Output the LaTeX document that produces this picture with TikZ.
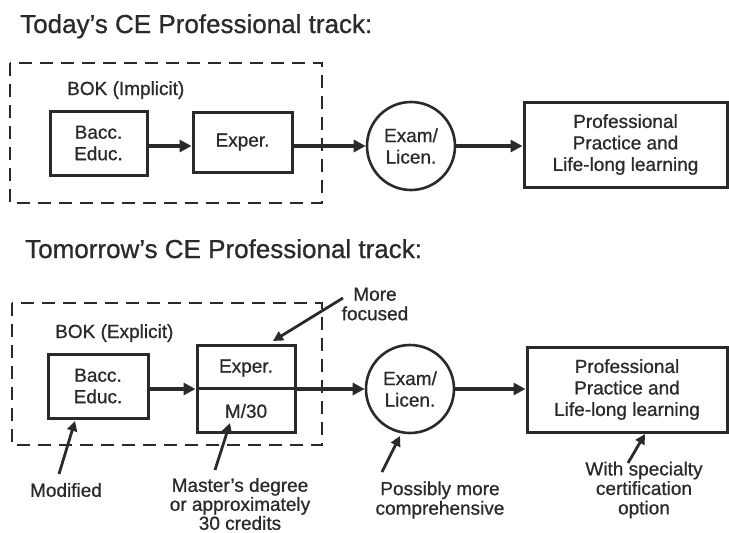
\documentclass[tikz,border=0pt]{standalone}
\usepackage{fontspec}
\setmainfont{Liberation Sans}[FakeBold=0.8]
\usetikzlibrary{arrows.meta,calc}
\definecolor{ink}{HTML}{2A2A2A}
\tikzset{
  every node/.style={text=ink, font=\fontsize{19}{21.5}\selectfont},
  titletext/.style={font=\fontsize{26}{30}\selectfont, anchor=base west, inner sep=0},
  boktext/.style={anchor=base west, inner sep=0},
  stepbox/.style={draw=ink, line width=3pt, align=center, inner sep=0},
  exambox/.style={draw=ink, line width=2.6pt, circle, align=center, inner sep=0, minimum size=88pt},
  bokframe/.style={draw=ink, line width=2.6pt, dash pattern=on 13pt off 8pt},
  flow/.style={draw=ink, line width=3.4pt, -{Triangle[length=12pt, width=12pt]}},
  annot/.style={draw=ink, line width=2.8pt, -{Triangle[length=10pt, width=10pt]}},
  note/.style={align=center, inner sep=0, font=\fontsize{19}{19.5}\selectfont}
}
\begin{document}
\begin{tikzpicture}[x=1pt, y=-1pt]
\useasboundingbox (0,0) rectangle (729,533);

% ---------- Today ----------
\node[titletext] (title1) at (20,33) {Today's CE Professional track:};
\draw[bokframe] (10,63) rectangle (322,203);
\node[boktext] (bok1) at (67,95) {BOK (Implicit)};
\node[stepbox, minimum width=97pt, minimum height=64pt] (bacc1) at (98.5,143) {Bacc.\\Educ.};
\node[stepbox, minimum width=99pt, minimum height=60pt] (exper1) at (242.5,142) {Exper.};
\node[exambox] (exam1) at (411,146) {Exam/\\Licen.};
\node[stepbox, minimum width=203pt, minimum height=85pt] (prof1) at (625.5,144.5) {Professional\\Practice and\\Life-long learning};
\draw[flow] (bacc1.east |- exam1.center) -- (exper1.west |- exam1.center);
\draw[flow] (exper1.east |- exam1.center) -- (exam1.west);
\draw[flow] (exam1.east) -- (prof1.west |- exam1.center);

% ---------- Tomorrow ----------
\node[titletext] (title2) at (25,258) {Tomorrow's CE Professional track:};
\draw[bokframe] (12,303) rectangle (322,445);
\node[boktext] (bok2) at (55,338) {BOK (Explicit)};
\node[stepbox, minimum width=100pt, minimum height=64pt] (bacc2) at (98,386) {Bacc.\\Educ.};
\node[stepbox, minimum width=98pt, minimum height=87pt] (exper2) at (246,388.5) {};
\node (experT) at (246,368) {Exper.};
\node (mthirty) at (246,411) {M/30};
\draw[ink, line width=2.6pt] (exper2.west) -- (exper2.east);
\node[exambox] (exam2) at (410,389) {Exam/\\Licen.};
\node[stepbox, minimum width=200pt, minimum height=85pt] (prof2) at (627,389.5) {Professional\\Practice and\\Life-long learning};
\draw[flow] (bacc2.east |- exam2.center) -- (exper2.west |- exam2.center);
\draw[flow] (exper2.east |- exam2.center) -- (exam2.west);
\draw[flow] (exam2.east) -- (prof2.west |- exam2.center);

% annotations
\node[note] (more) at (375,304) {More\\focused};
\node[note] (modified) at (66,490) {Modified};
\node[note, font=\fontsize{19}{19}\selectfont] (master) at (240,504) {Master's degree\\or approximately\\30 credits};
\node[note] (possibly) at (440,500) {Possibly more\\comprehensive};
\node[note] (special) at (644,490) {With specialty\\certification\\option};

\coordinate (moreA) at (343,298);
\coordinate (moreB) at (273,341);
\draw[annot] (moreA) -- (moreB);
\coordinate (modA) at (59,474);
\coordinate (modB) at (75,421);
\draw[annot] (modA) -- (modB);
\coordinate (masA) at (215,470);
\coordinate (masB) at (230,423);
\draw[annot] (masA) -- (masB);
\coordinate (posA) at (382,472);
\coordinate (posB) at (400,436);
\draw[annot] (posA) -- (posB);
\coordinate (speA) at (628,463);
\coordinate (speB) at (645,434);
\draw[annot] (speA) -- (speB);
\end{tikzpicture}
\end{document}
